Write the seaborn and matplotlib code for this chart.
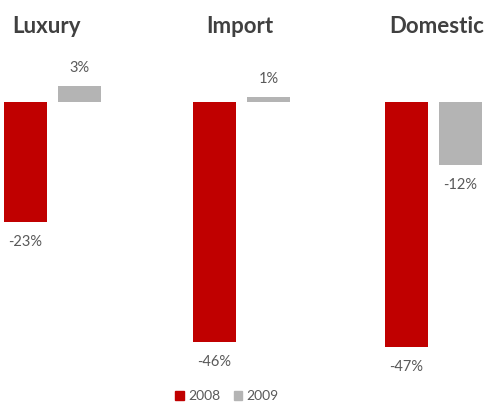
import numpy as np
import pandas as pd
import matplotlib.pyplot as plt
import seaborn as sns
from matplotlib.patches import Patch

# chart data
segments = ['Luxury', 'Import', 'Domestic']
years = ['2008', '2009']
vals_2008 = [-23, -46, -47]
vals_2009 = [3, 1, -12]

red = '#C00000'
gray = '#B4B4B4'
label_col = '#595959'
title_col = '#404040'

sns.set_style('white')
plt.rcParams['font.family'] = ['Lato', 'DejaVu Sans']

W, H = 491, 405
fig = plt.figure(figsize=(W / 100, H / 100), dpi=100)

# panel left edges in px, zero line at y=102 px, ~5.22 px per percent
lefts = [4, 193, 385]
px_per = 5.22
ymin, ymax = -50, 5
top_px = 102 - ymax * px_per
bot_px = 102 - ymin * px_per
title_x = [46, 240, 437]

for i, seg in enumerate(segments):
    ax = fig.add_axes([lefts[i] / W, 1 - bot_px / H, 97 / W, (bot_px - top_px) / H])
    df = pd.DataFrame({'year': years, 'value': [vals_2008[i], vals_2009[i]]})
    sns.barplot(data=df, x='year', y='value', hue='year', palette=[red, gray],
                width=0.8, legend=False, ax=ax, saturation=1, linewidth=0)
    ax.set_xlim(-0.4, 1.4)
    ax.set_ylim(ymin, ymax)
    ax.axis('off')
    for j, v in enumerate(df['value']):
        off = -14.5 if v < 0 else 13
        ax.annotate(f'{v}%', (j, v), xytext=(0, off), textcoords='offset points',
                    ha='center', va='center', fontsize=10.5, color=label_col)
    fig.text(title_x[i] / W, 1 - 33 / H, seg, ha='center', va='baseline',
             fontsize=16, fontweight='bold', color=title_col)

handles = [Patch(color=red, label='2008'), Patch(color=gray, label='2009')]
fig.legend(handles=handles, loc='center', bbox_to_anchor=(227 / W, 1 - 396 / H),
           ncol=2, frameon=False, fontsize=10, handlelength=0.6, handleheight=0.6,
           handletextpad=0.3, columnspacing=1.0, labelcolor=label_col)

fig.savefig('out.png', dpi=100)
